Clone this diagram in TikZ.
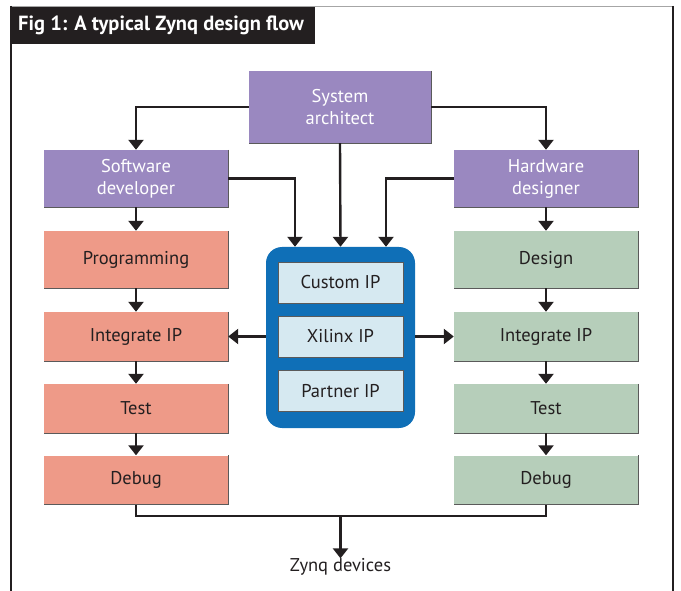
\documentclass[tikz,border=0pt]{standalone}
\usepackage{fontspec}
\setmainfont{PT Sans}
\usetikzlibrary{arrows.meta}
\definecolor{purp}{HTML}{9A88C0}
\definecolor{salm}{HTML}{EE9A88}
\definecolor{sage}{HTML}{B6CEBA}
\definecolor{ipblue}{HTML}{0F6FB7}
\definecolor{iplight}{HTML}{D6E9F1}
\definecolor{ink}{HTML}{231F20}
\definecolor{edge}{HTML}{5A5A5A}
\begin{document}
\begin{tikzpicture}[x=1pt,y=-1pt,
  lbl/.style={font=\fontsize{18.5}{22}\selectfont, align=center, inner sep=0pt},
  role/.style={lbl, fill=purp, text=white, minimum width=184pt, minimum height=57pt},
  sw/.style={lbl, fill=salm, text=ink, minimum width=184pt, minimum height=49pt},
  hw/.style={lbl, fill=sage, text=ink, minimum width=184pt, minimum height=49pt},
  ip/.style={lbl, fill=iplight, draw=edge, line width=0.6pt, text=ink, minimum width=125pt, minimum height=41pt},
  flow/.style={ink, line width=2.4pt, -{Triangle[width=15pt,length=10pt]}},
  joinline/.style={ink, line width=2.4pt},
  rim/.style={edge, line width=1pt}]
\useasboundingbox (0,0) rectangle (681,591);
% frame
\draw[gray!70, line width=1pt] (11,6.5) -- (673,6.5);
\draw[ink, line width=1.2pt] (11,6) -- (11,591);
\draw[ink, line width=1.2pt] (673,6) -- (673,591);
\fill[ink] (11,7) rectangle (315,44);
\node[anchor=west, text=white, inner sep=0pt, font=\fontsize{20.5}{22}\selectfont\bfseries] (title) at (18,25.5) {Fig 1: A typical Zynq design flow};
% roles
\node[role, minimum width=182pt, minimum height=72pt] (sa) at (340,107) {System\\architect};
\node[role] (sd) at (136,178.5) {Software\\developer};
\node[role] (hd) at (546,178.5) {Hardware\\designer};
% software column
\node[sw, minimum height=57pt] (p) at (136,259.5) {Programming};
\node[sw] (il) at (136,336.5) {Integrate IP};
\node[sw] (tl) at (136,408.5) {Test};
\node[sw] (dl) at (136,480) {Debug};
% hardware column
\node[hw, minimum height=57pt] (d) at (546,259.5) {Design};
\node[hw] (ir) at (546,336.5) {Integrate IP};
\node[hw] (tr) at (546,408.5) {Test};
\node[hw] (dr) at (546,480) {Debug};
% edges on boxes
\foreach \n in {sa,sd,hd,p,il,tl,dl,d,ir,tr,dr}
  \draw[rim] (\n.north east) -- (\n.south east) -- (\n.south west);
% IP block
\node[fill=ipblue, rounded corners=16pt, minimum width=149pt, minimum height=181pt, inner sep=0pt] (blk) at (340.5,337.5) {};
\node[ip] (cip) at (340.5,282.5) {Custom IP};
\node[ip] (xip) at (340.5,336.5) {Xilinx IP};
\node[ip] (pip) at (340.5,391) {Partner IP};
% connectors
\draw[flow] (sa.west |- 0,107) -| (sd.north);
\draw[flow] (sa.east |- 0,107) -| (hd.north);
\draw[flow] (sa.south) -- (blk.north);
\draw[flow] (sd.east) -| (blk.north -| 295,0);
\draw[flow] (hd.west) -| (blk.north -| 386,0);
\draw[flow] (sd) -- (p);
\draw[flow] (p) -- (il);
\draw[flow] (il) -- (tl);
\draw[flow] (tl) -- (dl);
\draw[flow] (hd) -- (d);
\draw[flow] (d) -- (ir);
\draw[flow] (ir) -- (tr);
\draw[flow] (tr) -- (dr);
\draw[flow] (blk.west |- xip) -- (il.east);
\draw[flow] (blk.east |- xip) -- (ir.west);
\node[lbl, text=ink] (zd) at (340.5,567) {Zynq devices};
\coordinate (mid) at (340.5,516);
\draw[joinline] (dl.south) |- (mid) -| (dr.south);
\draw[flow] (mid) -- (zd.north);
\end{tikzpicture}
\end{document}
